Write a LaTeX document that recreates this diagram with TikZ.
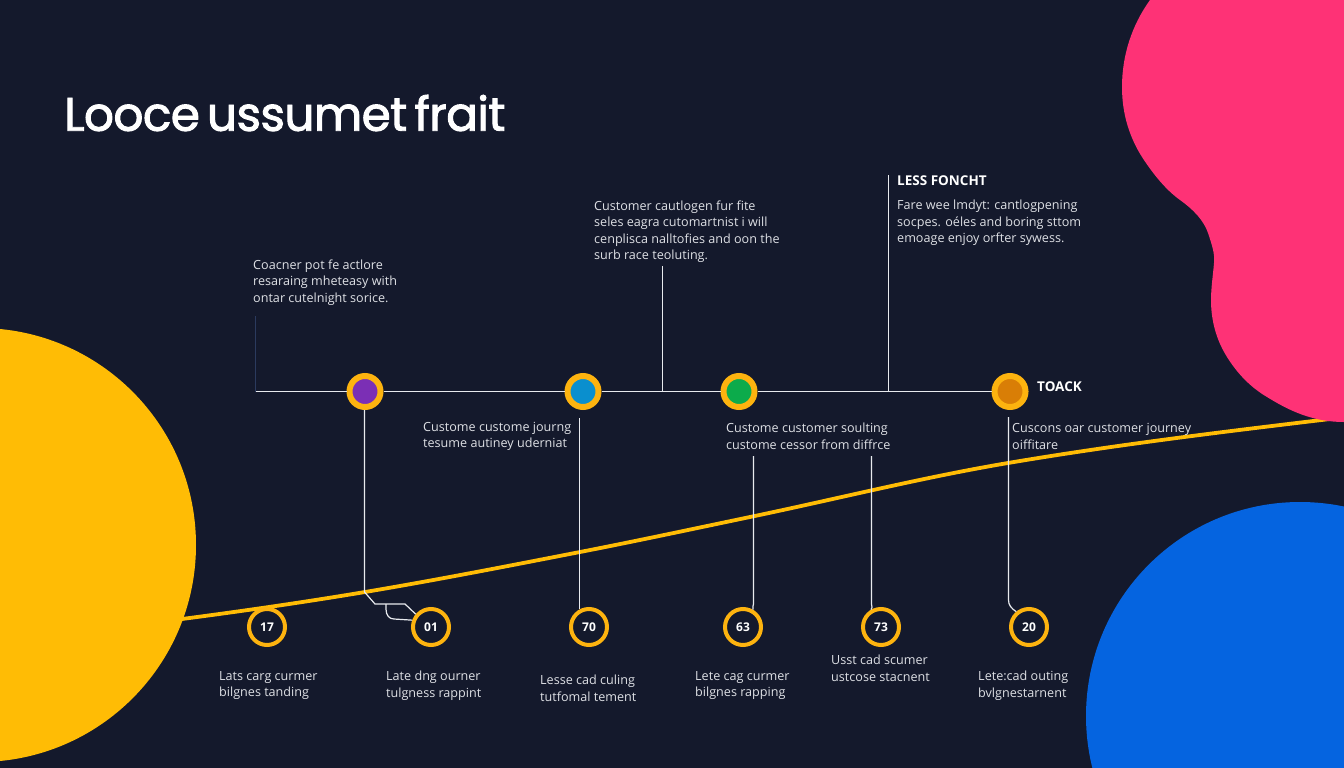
\documentclass[tikz,border=0pt]{standalone}
\usepackage{fontspec}
\setmainfont{Open Sans}
\newfontfamily\titlefont[LetterSpace=-1.3,FakeBold=2,WordSpace=0.6]{Poppins}
\definecolor{bgc}{HTML}{14192C}
\definecolor{ylw}{HTML}{FFBC05}
\definecolor{ringc}{HTML}{FDB30F}
\definecolor{pnk}{HTML}{FE3276}
\definecolor{blu}{HTML}{0564E0}
\definecolor{txt}{HTML}{DEE0E5}
\definecolor{linec}{HTML}{E8EAEE}
\definecolor{faintc}{HTML}{2B3A5E}
\definecolor{purp}{HTML}{7B2FB5}
\definecolor{cyn}{HTML}{0A8FCE}
\definecolor{grn}{HTML}{0CAB4B}
\definecolor{orng}{HTML}{D97E06}
\tikzset{
  x=1pt,y=-1pt,
  body/.style={text=txt,font=\fontsize{12.6}{16.5}\selectfont,align=left,anchor=west,inner sep=0pt},
  headtext/.style={text=white,font=\fontsize{13.5}{15}\selectfont\bfseries,anchor=west,inner sep=0pt},
  wire/.style={draw=linec,line width=1.2pt},
  faint/.style={draw=faintc,line width=1pt},
  bigring/.style={circle,draw=ringc,line width=6pt,minimum size=31pt,inner sep=0pt},
  numring/.style={circle,draw=ringc,line width=4pt,fill=bgc,minimum size=36pt,inner sep=0pt,text=white,font=\fontsize{12}{14}\selectfont\bfseries},
}
\begin{document}
\begin{tikzpicture}
\useasboundingbox (0,0) rectangle (1344,768);
\fill[bgc] (0,0) rectangle (1344,768);
% colour fields
\begin{scope}
\clip (0,0) rectangle (1344,768);
\fill[ylw] (-21,545) circle[radius=217];
\fill[blu] (1300,716) circle[radius=214];
\end{scope}
% yellow curve
\coordinate (ca) at (182,619);
\coordinate (cb) at (365,592);
\coordinate (cc) at (580,552);
\coordinate (cd) at (750,517);
\coordinate (ce) at (1008,463);
\coordinate (cf) at (1330,419);
\draw[ylw,line width=3.8pt] (ca) .. controls (243,611) and (304,602.2) .. (cb)
  .. controls (437,579.9) and (508,566) .. (cc)
  .. controls (637,540.9) and (693,528.9) .. (cd)
  .. controls (836,499.1) and (922,477.5) .. (ce)
  .. controls (1115,444.9) and (1223,431.8) .. (cf);
\fill[pnk] (1150,0) .. controls (1132,25) and (1122,55) .. (1122,87)
  .. controls (1122,115) and (1130,138) .. (1142,157)
  .. controls (1153,174) and (1166,190) .. (1180,200)
  .. controls (1194,210) and (1204,221) .. (1208,233)
  .. controls (1212,245) and (1215,254) .. (1214,263)
  .. controls (1213,275) and (1211,288) .. (1211,300)
  .. controls (1211,322) and (1217,341) .. (1227,357)
  .. controls (1237,373) and (1250,387) .. (1267,397)
  .. controls (1288,410) and (1312,422) .. (1344,422)
  -- (1344,0) -- cycle;
% title
\node[anchor=west,inner sep=0pt,text=white,font=\titlefont\fontsize{47}{50}\selectfont] (title) at (64,113) {Looce ussumet frait};
% main rings
\node[bigring,fill=purp] (r1) at (365,391.5) {};
\node[bigring,fill=cyn] (r2) at (583,391.5) {};
\node[bigring,fill=grn] (r3) at (739,391.5) {};
\node[bigring,fill=orng] (r4) at (1010,391.5) {};
% number rings
\node[numring] (n1) at (267,627) {17};
\node[numring] (n2) at (431,627) {01};
\node[numring] (n3) at (589,627) {70};
\node[numring] (n4) at (743,627) {63};
\node[numring] (n5) at (881,627) {73};
\node[numring] (n6) at (1029,627) {20};
% free ends of connectors
\coordinate (m0) at (255,391.5);
\coordinate (m1) at (662.5,391.5);
\coordinate (m2) at (888.5,391.5);
\coordinate (m3) at (255.5,391.5);
\coordinate (t0) at (255.5,316);
\coordinate (t1) at (662.5,266);
\coordinate (t2) at (888.5,175);
\coordinate (d1) at (364.5,410);
\coordinate (e1) at (364.5,592);
\coordinate (e2) at (375,604);
\coordinate (e3) at (405,604);
\coordinate (e4) at (386,604);
\coordinate (d2) at (579.5,418);
\coordinate (f2) at (579.5,609);
\coordinate (d3) at (753.5,456);
\coordinate (d4) at (871.5,456);
\coordinate (d5) at (1008.5,417);
\draw[wire] (m0) -- (r1) (r1) -- (r2) (r2) -- (r3) (r3) -- (r4);
\draw[faint] (t0) -- (m3);
\draw[wire] (t1) -- (m1);
\draw[wire] (t2) -- (m2);
\draw[wire] (d1) -- (e1) -- (e2) -- (e3) -- (n2.140);
\draw[wire] (e4) -- (386,609) .. controls (386,615) and (389,619) .. (394,619) -- (n2.160);
\draw[wire] (d2) -- (f2);
\draw[wire] (d3) -- (753.5,604) .. controls (753.5,606) and (752,607) .. (n4.60);
\draw[wire] (d4) -- (871.5,604) .. controls (871.5,607) and (873,608) .. (n5.120);
\draw[wire] (d5) -- (1008.5,600) .. controls (1008.5,605) and (1011,608) .. (n6.130);
% upper texts
\node[body] (a) at (253,282.5) {Coacner pot fe actlore\\resaraing mheteasy with\\ontar cutelnight sorice.};
\node[body] (b) at (594,231.5) {Customer cautlogen fur fite\\seles eagra cutomartnist i will\\cenplisca nalltofies and oon the\\surb race teoluting.};
\node[headtext] (ch) at (897,181) {LESS FONCHT};
\node[body] (c) at (897,223) {Fare wee lmdyt: cantlogpening\\socpes. oéles and boring sttom\\emoage enjoy orfter sywess.};
\node[headtext] (ck) at (1037,387) {TOACK};
\node[body] (d) at (423,436.5) {Custome custome journg\\tesume autiney uderniat};
\node[body] (e) at (726,436.5) {Custome customer soulting\\custome cessor from diffrce};
\node[body] (f) at (1012,436.5) {Cuscons oar customer journey\\oiffitare};
% lower texts
\node[body] (l1) at (219,685.5) {Lats carg curmer\\bilgnes tanding};
\node[body] (l2) at (386,685.5) {Late dng ourner\\tulgness rappint};
\node[body] (l3) at (540,688.5) {Lesse cad culing\\tutfomal tement};
\node[body] (l4) at (695,685.5) {Lete cag curmer\\bilgnes rapping};
\node[body] (l5) at (831,668.5) {Usst cad scumer\\ustcose stacnent};
\node[body] (l6) at (978,685.5) {Lete:cad outing\\bvlgnestarnent};
\end{tikzpicture}
\end{document}
